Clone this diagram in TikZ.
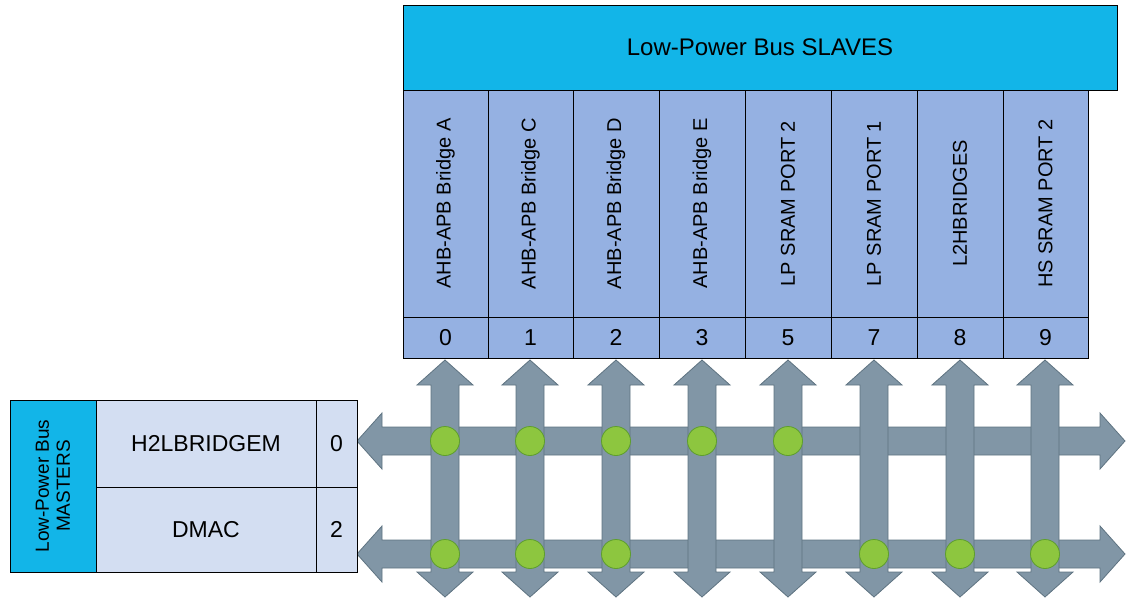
\documentclass[tikz,border=0pt]{standalone}
\usepackage{fontspec}
\setmainfont{Liberation Sans}
\begin{document}
\begin{tikzpicture}[x=1pt,y=-1pt,
  hdr/.style={fill=cyanh,draw=black,line width=0.6pt},
  col/.style={fill=colb,draw=black,line width=0.6pt},
  mst/.style={fill=mstb,draw=black,line width=0.6pt},
  arr/.style={fill=arrf,draw=arrd,line width=0.8pt},
  dot/.style={circle,fill=dotg,draw=dotd,line width=0.8pt,minimum size=29pt,inner sep=0pt}]
\definecolor{cyanh}{HTML}{12B5E8}
\definecolor{colb}{HTML}{95B1E2}
\definecolor{mstb}{HTML}{D3DEF2}
\definecolor{arrf}{HTML}{8196A6}
\definecolor{arrd}{HTML}{5E7381}
\definecolor{dotg}{HTML}{8DC63F}
\definecolor{dotd}{HTML}{5E9E2E}
\useasboundingbox (0,0) rectangle (1137,603);
% slaves header
\draw[hdr] (403,5) rectangle node[font=\fontsize{24}{28}\selectfont] (sh) {Low-Power Bus SLAVES} (1117,90);
% columns
\foreach \x/\w/\t/\n [count=\i] in {403/85/AHB-APB Bridge A/0,488/85/AHB-APB Bridge C/1,573/86/AHB-APB Bridge D/2,659/86/AHB-APB Bridge E/3,745/86/LP SRAM PORT 2/5,831/86/LP SRAM PORT 1/7,917/86/L2HBRIDGES/8,1003/85/HS SRAM PORT 2/9}{
  \draw[col] (\x,90) rectangle node[rotate=90,font=\fontsize{20}{24}\selectfont] (c\i) {\t} (\x+\w,317);
  \draw[col] (\x,317) rectangle node[font=\fontsize{23}{26}\selectfont] (n\i) {\n} (\x+\w,358);
}
% horizontal arrows
\foreach \y/\r in {441/a,554/b}{
  \draw[arr] (357,\y) -- (382,\y-28) -- (382,\y-14) -- (1100,\y-14) -- (1100,\y-28) -- (1125,\y)
    -- (1100,\y+28) -- (1100,\y+14) -- (382,\y+14) -- (382,\y+28) -- cycle;
}
% vertical arrows
\foreach \x in {445,530,616,702,788,874,960,1045}{
  \draw[arr] (\x,360) -- (\x+28,385) -- (\x+14,385) -- (\x+14,572) -- (\x+28,572) -- (\x,597)
    -- (\x-28,572) -- (\x-14,572) -- (\x-14,385) -- (\x-28,385) -- cycle;
}
% crosspoints
\foreach \x in {445,530,616,702,788}{\node[dot] at (\x,441) {};}
\foreach \x in {445,530,616,874,960,1045}{\node[dot] at (\x,554) {};}
% masters
\draw[hdr] (10,400) rectangle node[rotate=90,align=center,font=\fontsize{19}{21}\selectfont] (mh) {Low-Power Bus\\MASTERS} (96,572);
\draw[mst] (96,400) rectangle node[font=\fontsize{23}{26}\selectfont] (m0) {H2LBRIDGEM} (316,487);
\draw[mst] (316,400) rectangle node[font=\fontsize{23}{26}\selectfont] (k0) {0} (357,487);
\draw[mst] (96,487) rectangle node[font=\fontsize{23}{26}\selectfont] (m2) {DMAC} (316,572);
\draw[mst] (316,487) rectangle node[font=\fontsize{23}{26}\selectfont] (k2) {2} (357,572);
\end{tikzpicture}
\end{document}
